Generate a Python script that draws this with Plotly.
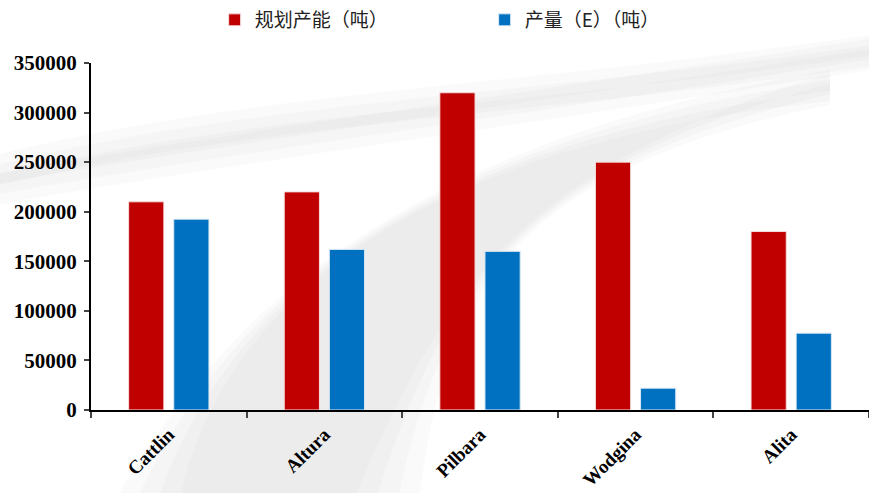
import plotly.graph_objects as go

categories = ["Cattlin", "Altura", "Pilbara", "Wodgina", "Alita"]
capacity = [210000, 220000, 320000, 250000, 180000]
output_e = [192500, 162000, 160000, 22000, 77500]
series_names = ["规划产能（吨）", "产量（E）（吨）"]
y_ticks = [0, 50000, 100000, 150000, 200000, 250000, 300000, 350000]
y_tick_text = [str(v) for v in y_ticks]

fig = go.Figure()
fig.add_trace(go.Bar(x=categories, y=capacity, name=series_names[0],
                     marker=dict(color="#C00000", line=dict(color="#f4dede", width=1))))
fig.add_trace(go.Bar(x=categories, y=output_e, name=series_names[1],
                     marker=dict(color="#0070C0", line=dict(color="#d8e8f4", width=1))))

# soft decorative grey swooshes (layered for a blurred look)
for k in range(4):
    d = 0.03 * k
    fig.add_shape(type="path", xref="paper", yref="paper", layer="below",
                  path=f"M -0.15 {0.72-d} C 0.2 {0.92-d}, 0.5 {0.92-d}, 1.0 {1.08-d} "
                       f"L 1.0 {0.98+d} C 0.5 {0.80+d}, 0.2 {0.72+d}, -0.15 {0.58+d} Z",
                  fillcolor="rgba(190,190,190,0.07)", line=dict(width=0))
    fig.add_shape(type="path", xref="paper", yref="paper", layer="below",
                  path=f"M {0.02+d} -0.3 C 0.15 0.2, 0.35 0.75, 0.95 {0.98-d} "
                       f"L 0.95 {0.88+d} C 0.55 0.7, 0.45 0.35, {0.42-d} -0.3 Z",
                  fillcolor="rgba(190,190,190,0.07)", line=dict(width=0))

fig.update_layout(
    width=869, height=493,
    margin=dict(l=91, r=0, t=63, b=83),
    paper_bgcolor="white", plot_bgcolor="rgba(0,0,0,0)",
    barmode="group", bargap=0.42, bargroupgap=0.22,
    showlegend=True,
    legend=dict(orientation="h", xref="container", x=0.247, xanchor="left",
                yref="container", y=0.998, yanchor="top",
                entrywidth=225, entrywidthmode="pixels",
                font=dict(family="Noto Sans CJK SC", size=19, color="#222222"),
                itemwidth=30, bgcolor="rgba(0,0,0,0)"),
    font=dict(family="Liberation Serif", color="black"),
)
fig.update_yaxes(range=[0, 350000], tickvals=y_ticks, ticktext=y_tick_text,
                 ticks="outside", ticklen=5, ticklabelstandoff=3, automargin=False,
                 tickwidth=1.5, showline=True, linecolor="black", linewidth=2,
                 showgrid=False, zeroline=False,
                 tickfont=dict(family="Liberation Serif", size=21, color="black", weight="bold"))
fig.update_xaxes(ticks="outside", tickson="boundaries", ticklen=6, tickwidth=2,
                 showline=True, linecolor="black", linewidth=2, showgrid=False,
                 tickangle=-45, ticklabelstandoff=4, automargin=False,
                 tickfont=dict(family="Liberation Serif", size=19, color="black", weight="bold"))

fig.write_html("out.html")
